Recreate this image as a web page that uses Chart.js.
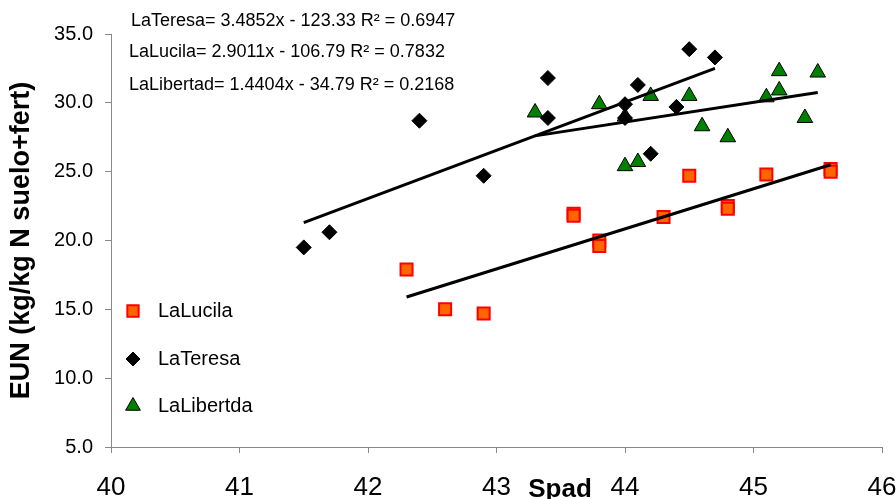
<!DOCTYPE html>
<html>
<head>
<meta charset="utf-8">
<script src="https://cdn.jsdelivr.net/npm/chart.js@4.4.0/dist/chart.umd.min.js"></script>
<style>
  body { margin: 0; background: #fff; }
  #wrap { width: 896px; height: 499px; }
</style>
</head>
<body>
<div id="wrap"><canvas id="eun" width="896" height="499"></canvas></div>
<script>
// x = Spad, y = EUN
const lucilaX = [42.3, 42.6, 42.9, 43.6, 43.6, 43.8, 43.8, 44.3, 44.5, 44.8, 44.8, 45.1, 45.6, 45.6]
const lucilaY = [17.9, 15.0, 14.7, 21.95, 21.8, 20.0, 19.6, 21.7, 24.7, 22.5, 22.3, 24.8, 25.2, 25.0]

const teresaX = [41.5, 41.7, 42.4, 42.9, 43.4, 43.4, 44.0, 44.0, 44.1, 44.2, 44.4, 44.5, 44.7]
const teresaY = [19.5, 20.6, 28.7, 24.7, 31.8, 28.9, 29.9, 28.9, 31.3, 26.3, 29.7, 33.9, 33.3]

const libertadX = [43.3, 43.8, 44.0, 44.0, 44.1, 44.2, 44.5, 44.6, 44.8, 45.1, 45.2, 45.2, 45.4, 45.5]
const libertadY = [29.3, 29.9, 29.0, 25.4, 25.7, 30.5, 30.5, 28.3, 27.5, 30.4, 32.3, 30.9, 28.9, 32.2]

// trend line ends
const lucilaTrendX = [42.3, 45.6]
const lucilaTrendY = [15.9, 25.5]
const teresaTrendX = [41.5, 44.7]
const teresaTrendY = [21.3, 32.5]
const libertadTrendX = [43.3, 45.5]
const libertadTrendY = [27.6, 30.75]

const equations = [
    'LaTeresa= 3.4852x - 123.33 R\u00b2 = 0.6947',
    'LaLucila= 2.9011x - 106.79 R\u00b2 = 0.7832',
    'LaLibertad= 1.4404x - 34.79 R\u00b2 = 0.2168'
]
const legendNames = ['LaLucila', 'LaTeresa', 'LaLibertda']

const xTicks = [40, 41, 42, 43, 44, 45, 46]
const yTicks = [5, 10, 15, 20, 25, 30, 35]

var toPoints = function(xs, ys){
    return xs.map(function(x, i){ return {x: x, y: ys[i]} })
}

const FONT = 'Arial, "Liberation Sans", sans-serif'

const lucilaStyle = {pointStyle: 'rect', radius: 8.5, backgroundColor: '#FF6600', borderColor: '#FF0000', borderWidth: 2}
const teresaStyle = {pointStyle: 'rectRot', radius: 7.5, backgroundColor: '#000000', borderColor: '#000000', borderWidth: 1}
const libertadStyle = {pointStyle: 'triangle', radius: 9, backgroundColor: '#008000', borderColor: '#000000', borderWidth: 1}

var markerSet = function(label, xs, ys, st){
    return {
        label: label,
        data: toPoints(xs, ys),
        showLine: false,
        pointStyle: st.pointStyle,
        pointRadius: st.radius,
        pointBackgroundColor: st.backgroundColor,
        pointBorderColor: st.borderColor,
        pointBorderWidth: st.borderWidth,
        order: 2
    }
}
var trendSet = function(xs, ys){
    return {
        data: toPoints(xs, ys),
        showLine: true,
        borderColor: '#000',
        borderWidth: 3,
        pointRadius: 0,
        fill: false,
        order: 1
    }
}

// equations, legend and the x title drawn on top
const extras = {
    id: 'extras',
    afterDraw: function(chart){
        const ctx = chart.ctx
        ctx.save()
        ctx.fillStyle = '#000'
        ctx.textBaseline = 'middle'
        ctx.font = '18px ' + FONT
        ctx.fillText(equations[0], 131, 21)
        ctx.fillText(equations[1], 129, 52)
        ctx.fillText(equations[2], 129, 85)

        const styles = [lucilaStyle, teresaStyle, libertadStyle]
        const rowY = [311, 359, 406]
        ctx.font = '20px ' + FONT
        styles.forEach(function(st, i){
            ctx.fillStyle = st.backgroundColor
            ctx.strokeStyle = st.borderColor
            ctx.lineWidth = st.borderWidth
            Chart.helpers.drawPoint(ctx, {pointStyle: st.pointStyle, radius: st.radius - 0.5, rotation: 0, borderWidth: st.borderWidth}, 133, rowY[i])
            ctx.fillStyle = '#000'
            ctx.fillText(legendNames[i], 158, rowY[i])
        })

        ctx.font = 'bold 26px ' + FONT
        ctx.textAlign = 'center'
        ctx.textBaseline = 'alphabetic'
        ctx.fillText('Spad', 560, 497)
        ctx.restore()
    }
}

const config = {
    type: 'scatter',
    data: {
        datasets: [
            trendSet(teresaTrendX, teresaTrendY),
            trendSet(lucilaTrendX, lucilaTrendY),
            trendSet(libertadTrendX, libertadTrendY),
            markerSet('LaLucila', lucilaX, lucilaY, lucilaStyle),
            markerSet('LaTeresa', teresaX, teresaY, teresaStyle),
            markerSet('LaLibertda', libertadX, libertadY, libertadStyle)
        ]
    },
    options: {
        responsive: false,
        animation: false,
        layout: { padding: {top: 34, right: 14, bottom: 0, left: 0} },
        plugins: {
            legend: { display: false },
            tooltip: { enabled: false }
        },
        scales: {
            x: {
                type: 'linear',
                min: 40,
                max: 46,
                afterBuildTicks: function(scale){
                    scale.ticks = xTicks.map(function(v){ return {value: v} })
                },
                afterFit: function(scale){
                    scale.height = 52
                    scale.paddingLeft = 0
                    scale.paddingRight = 0
                },
                ticks: {
                    color: '#000',
                    font: {family: FONT, size: 26},
                    padding: 19,
                    maxRotation: 0
                },
                grid: { drawOnChartArea: false, drawTicks: true, tickLength: 6, color: '#888' },
                border: { color: '#888', width: 1 }
            },
            y: {
                type: 'linear',
                min: 5,
                max: 35,
                afterBuildTicks: function(scale){
                    scale.ticks = yTicks.map(function(v){ return {value: v} })
                },
                afterFit: function(scale){ scale.width = 111 },
                ticks: {
                    color: '#000',
                    font: {family: FONT, size: 20},
                    padding: 12,
                    callback: function(v){ return v.toFixed(1) }
                },
                title: {
                    display: true,
                    text: 'EUN (kg/kg N suelo+fert)',
                    color: '#000',
                    font: {family: FONT, size: 27, weight: 'bold'},
                    padding: {top: 5, bottom: 0}
                },
                grid: { drawOnChartArea: false, drawTicks: true, tickLength: 6, color: '#888' },
                border: { color: '#888', width: 1 }
            }
        }
    },
    plugins: [extras]
}

const eunChart = new Chart(document.getElementById('eun'), config)
</script>
</body>
</html>
